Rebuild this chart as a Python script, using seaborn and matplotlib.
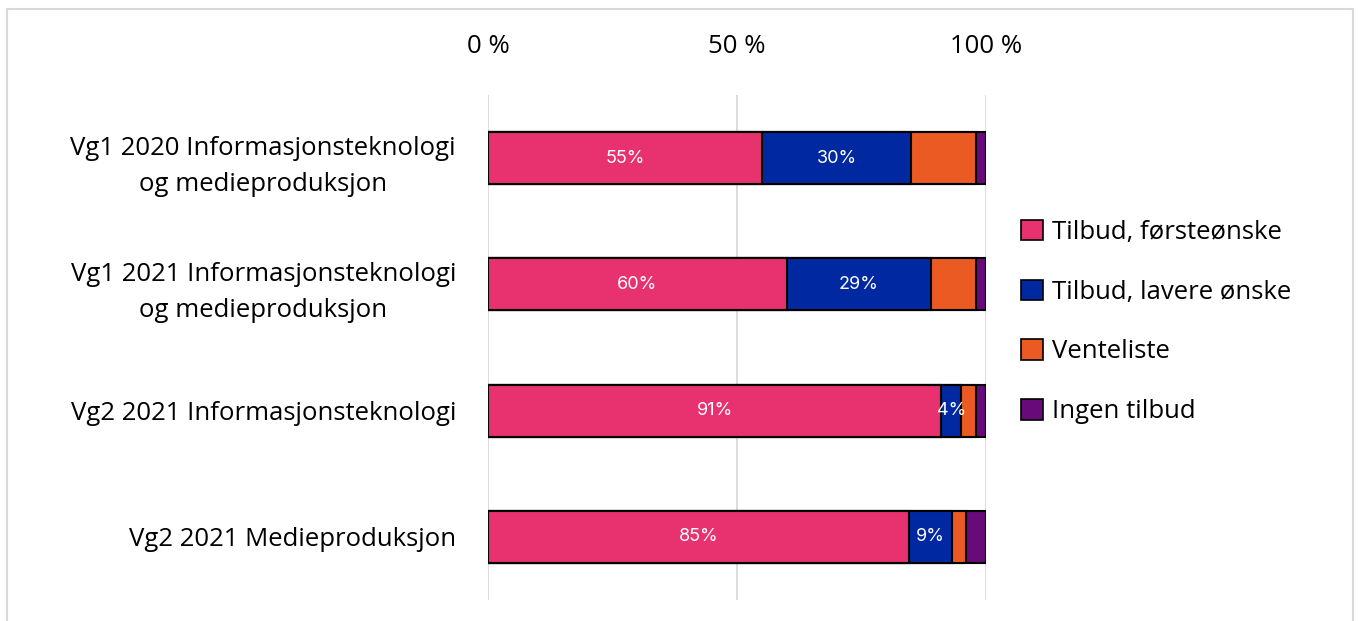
import matplotlib
matplotlib.use("Agg")
import matplotlib.pyplot as plt
import seaborn as sns
import pandas as pd
import numpy as np
from matplotlib.patches import Patch, Rectangle

# Data (shares in %)
categories = [
    "Vg1 2020 Informasjonsteknologi\nog medieproduksjon",
    "Vg1 2021 Informasjonsteknologi\nog medieproduksjon",
    "Vg2 2021 Informasjonsteknologi",
    "Vg2 2021 Medieproduksjon",
]
series = ["Tilbud, førsteønske", "Tilbud, lavere ønske", "Venteliste", "Ingen tilbud"]
forste = [55, 60, 91, 84.6]
lavere = [30, 29, 4, 8.6]
venteliste = [13, 9, 3, 2.8]
ingen = [2, 2, 2, 4.0]
colors = ["#E8316F", "#0028A0", "#EB5A22", "#680A7A"]

sns.set_theme(style="white")
plt.rcParams["font.family"] = ["Open Sans", "DejaVu Sans"]
plt.rcParams["text.color"] = "black"
plt.rcParams["xtick.color"] = "black"
plt.rcParams["ytick.color"] = "black"

df = pd.DataFrame({"kategori": categories, series[0]: forste, series[1]: lavere,
                   series[2]: venteliste, series[3]: ingen})
cum = df[series].cumsum(axis=1)

fig = plt.figure(figsize=(13.6, 6.21), dpi=100)
ax = fig.add_axes([488 / 1360, 1 - 600 / 621, 498 / 1360, (600 - 95) / 621])

# stacked bars: draw cumulative totals from the back
for s, c in reversed(list(zip(series, colors))):
    sns.barplot(x=cum[s], y=df["kategori"], order=categories, orient="h", color=c,
                saturation=1, edgecolor="black", linewidth=1.5, width=0.41, ax=ax, zorder=3)

# value labels for the first two segments
for s in series[:2]:
    for i, (v, right) in enumerate(zip(df[s], cum[s])):
        ax.text(right - v / 2, i, f"{v:.0f}%", ha="center", va="center",
                color="white", fontsize=13, family=["Inter", "DejaVu Sans"], zorder=4)

ax.set_xlim(0, 100)
ax.set_ylim(3.5, -0.5)
ax.set_xticks([0, 50, 100])
ax.set_xticklabels(["0 %", "50 %", "100 %"])
ax.xaxis.tick_top()
ax.tick_params(axis="x", length=0, pad=26, labelsize=18.5)
ax.tick_params(axis="y", length=0, pad=23, labelsize=18.5)
for t in ax.get_yticklabels():
    t.set_multialignment("center")
    t.set_linespacing(1.55)
ax.set_xlabel("")
ax.set_ylabel("")
ax.grid(axis="x", color="#d9d9d9", linewidth=1.3, zorder=0)
for sp in ax.spines.values():
    sp.set_visible(False)

handles = [Patch(facecolor=c, edgecolor="black", linewidth=1.2) for c in colors]
fig.legend(handles, series, loc="center left", bbox_to_anchor=(998 / 1360, 1 - 322 / 621),
           frameon=False, fontsize=18.5, handlelength=0.85, handleheight=0.85,
           handletextpad=0.35, labelspacing=1.35)

# outer frame
fig.patches.append(Rectangle((7 / 1360, -0.1), 1346 / 1360, 1.1 - 9 / 621,
                             transform=fig.transFigure, fill=False,
                             edgecolor="#d9d9d9", linewidth=1.5))

fig.savefig("out.png", dpi=100)
